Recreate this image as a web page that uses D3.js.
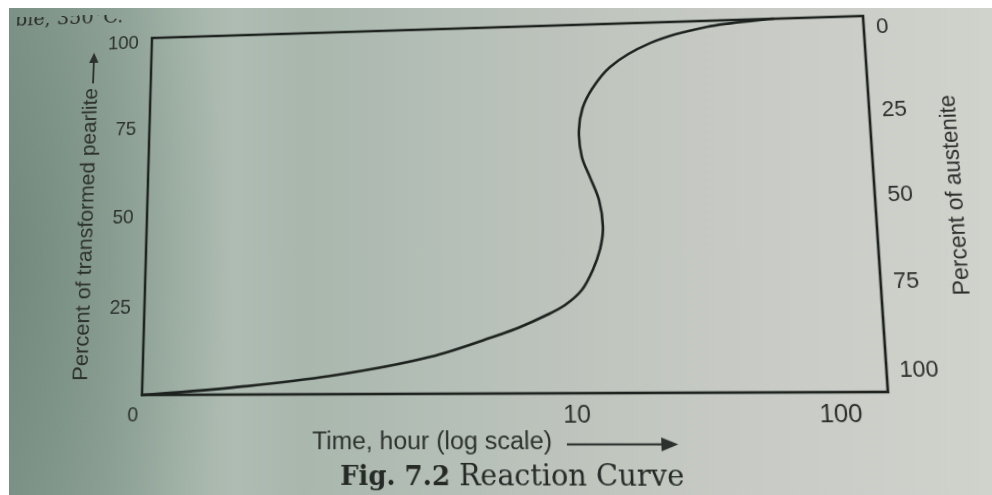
<!DOCTYPE html>
<html>
<head>
<meta charset="utf-8">
<script src="https://cdn.jsdelivr.net/npm/d3@7"></script>
<style>
html,body{margin:0;padding:0;width:992px;height:495px;overflow:hidden;background:#fff;}
#bg{position:absolute;left:9px;top:8px;width:983px;height:487px;
  background:
    radial-gradient(ellipse 220px 520px at 0px 250px, rgba(70,95,82,0.30), rgba(70,95,82,0) 100%),
    linear-gradient(90deg,#869b90 0%,#94a79c 10%,#a5b5aa 18%,#afbcb3 23%,#a9b7ad 30%,#b5bfb7 45%,#c0c5be 60%,#c9ccc6 78%,#d0d2cc 100%);}
#warp{position:absolute;left:0;top:0;width:992px;height:495px;transform-origin:0 0;}
.mask{position:absolute;background:#fff;}
</style>
</head>
<body>
<div id="bg"></div>
<div id="warp"><svg id="chart" width="992" height="495"></svg></div>
<div class="mask" style="left:0;top:0;width:992px;height:8px"></div>
<div class="mask" style="left:0;top:0;width:9px;height:495px"></div>
<script>
// ---- data ----
const curveTime = [0.183, 0.42, 1.066, 2.677, 4.636, 6.10, 7.66, 9.20, 10.77, 11.95, 12.80, 13.23, 12.87, 11.92, 11.14, 10.92, 11.35, 12.45, 14.79, 21.55, 36.6, 61.1, 67.3];
const curvePct  = [0,     1.8,  4.8,   9.7,   14.6,  17.4, 20.3, 23.1, 27.1,  32.4,  37.7,  43.1,  51.2,  57.5,  63.0,  70.5,  76.5,  81.8,  87.8,  94.2,  98.3, 99.8, 100];
const timeDomain = [0.183, 151];
const xTicks = [10, 100];
const xTickLabels = ["10", "100"];
const leftTicks = [25, 50, 75, 100];
const rightTicks = [0, 25, 50, 75, 100];
const cornerLabel = "0";
const xTitle = "Time, hour (log scale)";
const leftTitle = "Percent of transformed pearlite";
const rightTitle = "Percent of austenite";
const captionBold = "Fig. 7.2";
const captionRest = " Reaction Curve";
const pageText = "ble, 350°C.";

// ---- layout ----
const L = 148, R = 874, T = 27, B = 395;
const ink = "#1e2320", txt = "#2c312e";
const x = d3.scaleLog().domain(timeDomain).range([L, R]);
const yL = d3.scaleLinear().domain([0, 100]).range([B, T]);
const yR = d3.scaleLinear().domain([0, 100]).range([37, 373]);

const svg = d3.select("#chart");
const sans = "'Liberation Sans', Arial, sans-serif";
const serif = "'DejaVu Serif', serif";

// stray page text (cut at top)
svg.append("text").attr("x", -2).attr("y", 9).attr("font-family", serif)
  .attr("font-size", 21).attr("fill", "#2a2e2b").text(pageText);

// box
svg.append("rect").attr("x", L).attr("y", T).attr("width", R - L).attr("height", B - T)
  .attr("fill", "none").attr("stroke", ink).attr("stroke-width", 2.6);

// curve
const pts = curveTime.map((t, i) => ({t, p: curvePct[i]}));
svg.append("path").datum(pts)
  .attr("d", d3.line().x(d => x(d.t)).y(d => yL(d.p)).curve(d3.curveCatmullRom.alpha(0.5)))
  .attr("fill", "none").attr("stroke", ink).attr("stroke-width", 2.6).attr("stroke-linecap", "round");

// left tick labels
svg.selectAll(".lt").data(leftTicks).enter().append("text")
  .attr("x", L - 14).attr("y", d => yL(d) + 4).attr("text-anchor", "end")
  .attr("dominant-baseline", "central").attr("font-family", sans).attr("font-size", 20)
  .attr("fill", txt).text(d => d);

// right tick labels
svg.selectAll(".rt").data(rightTicks).enter().append("text")
  .attr("x", R + 12).attr("y", d => yR(d)).attr("text-anchor", "start")
  .attr("dominant-baseline", "central").attr("font-family", sans).attr("font-size", 21.5)
  .attr("fill", txt).text(d => d);

// bottom tick labels
svg.selectAll(".bt").data(xTicks).enter().append("text")
  .attr("x", d => x(d)).attr("y", B + 20).attr("text-anchor", "middle")
  .attr("dominant-baseline", "central").attr("font-family", sans).attr("font-size", 24)
  .attr("fill", txt).text((d, i) => xTickLabels[i]);

// corner zero
svg.append("text").attr("x", L - 9).attr("y", B + 19).attr("text-anchor", "middle")
  .attr("dominant-baseline", "central").attr("font-family", sans).attr("font-size", 20)
  .attr("fill", txt).text(cornerLabel);

// left title + arrow
svg.append("text").attr("transform", "translate(83,230) rotate(-90)")
  .attr("text-anchor", "middle").attr("dominant-baseline", "central")
  .attr("font-family", sans).attr("font-size", 22).attr("fill", txt).text(leftTitle);
svg.append("line").attr("x1", 86).attr("x2", 86).attr("y1", 74).attr("y2", 50)
  .attr("stroke", txt).attr("stroke-width", 2);
svg.append("path").attr("d", "M86,41 L81,52 L91,52 Z").attr("fill", txt);

// x title + arrow
svg.append("text").attr("x", 321).attr("y", 440).attr("dominant-baseline", "central")
  .attr("font-family", sans).attr("font-size", 24.4).attr("fill", txt).text(xTitle);
svg.append("line").attr("x1", 570).attr("x2", 663).attr("y1", 443.5).attr("y2", 443.5)
  .attr("stroke", txt).attr("stroke-width", 2.2);
svg.append("path").attr("d", "M676,443.5 L660,437 L660,450 Z").attr("fill", txt);

// right title
svg.append("text").attr("transform", "translate(948,207) rotate(-90)")
  .attr("text-anchor", "middle").attr("dominant-baseline", "central")
  .attr("font-family", sans).attr("font-size", 22).attr("fill", txt).text(rightTitle);

// caption
const cap = svg.append("text").attr("x", 349).attr("y", 482).attr("font-family", serif)
  .attr("fill", "#262a27");
cap.append("tspan").attr("font-weight", "bold").attr("font-size", 25.5).text(captionBold);
cap.append("tspan").attr("font-size", 27.5).text(captionRest);

// ---- photo perspective (homography from flat box to photographed box) ----
function solve(A, b) {
  const n = b.length;
  const M = A.map((r, i) => r.concat([b[i]]));
  for (let c = 0; c < n; c++) {
    let p = c;
    for (let r = c + 1; r < n; r++) if (Math.abs(M[r][c]) > Math.abs(M[p][c])) p = r;
    [M[c], M[p]] = [M[p], M[c]];
    for (let r = 0; r < n; r++) {
      if (r === c) continue;
      const f = M[r][c] / M[c][c];
      for (let k = c; k <= n; k++) M[r][k] -= f * M[c][k];
    }
  }
  return M.map((r, i) => r[n] / r[i]);
}
const from = [[L, T], [R, T], [R, B], [L, B]];
const to = [[152, 38], [863, 16], [888, 392], [142, 395]];
const A = [], bb = [];
for (let i = 0; i < 4; i++) {
  const [fx, fy] = from[i], [tx, ty] = to[i];
  A.push([fx, fy, 1, 0, 0, 0, -fx * tx, -fy * tx]); bb.push(tx);
  A.push([0, 0, 0, fx, fy, 1, -fx * ty, -fy * ty]); bb.push(ty);
}
const h = solve(A, bb);
document.getElementById("warp").style.transform =
  `matrix3d(${h[0]},${h[3]},0,${h[6]},${h[1]},${h[4]},0,${h[7]},0,0,1,0,${h[2]},${h[5]},0,1)`;
</script>
</body>
</html>
